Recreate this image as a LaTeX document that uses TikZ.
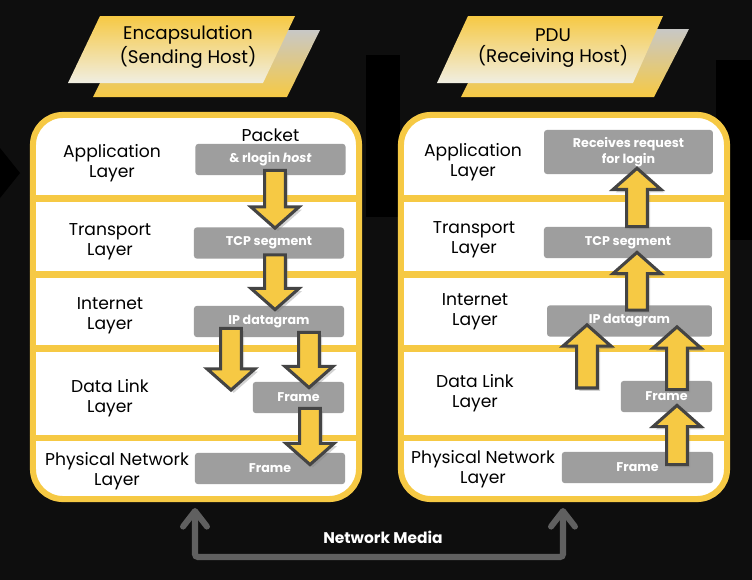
\documentclass[tikz,border=0pt]{standalone}
\usepackage{fontspec}
\setmainfont{Poppins}
\usetikzlibrary{arrows.meta,calc,shadows,positioning}
\definecolor{bgdark}{RGB}{14,14,14}
\definecolor{osiyellow}{RGB}{246,201,68}
\definecolor{pdugray}{RGB}{158,158,158}
\definecolor{arrowedge}{RGB}{68,68,68}
\definecolor{mediagray}{RGB}{96,96,96}
\definecolor{cream}{RGB}{240,238,226}
\definecolor{titlegray}{RGB}{200,200,198}

% block arrow from #1 to #2 (tip at #2)
\newcommand{\blockarrow}[2]{%
  \coordinate (ba-s) at (#1);
  \coordinate (ba-e) at (#2);
  \coordinate (ba-h) at ($(ba-e)!0.53cm!(ba-s)$);
  \draw[blockarr] ($(ba-s)!0.26cm!90:(ba-e)$) -- ($(ba-h)!0.26cm!-90:(ba-s)$)
    -- ($(ba-h)!0.6cm!-90:(ba-s)$) -- (ba-e) -- ($(ba-h)!0.6cm!90:(ba-s)$)
    -- ($(ba-h)!0.26cm!90:(ba-s)$) -- ($(ba-s)!0.26cm!-90:(ba-e)$) -- cycle;}

\begin{document}
\begin{tikzpicture}[x=0.025cm, y=-0.025cm,
    panel/.style={draw=osiyellow, line width=4.3pt, fill=white,
        rounded corners=0.75cm, minimum width=8.15cm, minimum height=9.6cm},
    divider/.style={osiyellow, line width=4.3pt},
    layer/.style={font=\fontsize{12.2}{14.5}\selectfont, align=center, text=black},
    pdu/.style={fill=pdugray, rounded corners=2pt, minimum height=0.78cm,
        text=white, font=\bfseries\fontsize{9}{11}\selectfont, align=center},
    blockarr/.style={fill=osiyellow, draw=arrowedge, line width=2.2pt,
        drop shadow={opacity=0.35, shadow xshift=2pt, shadow yshift=-2pt}},
    media/.style={mediagray, line width=4.3pt, rounded corners=2pt,
        {Straight Barb[round, length=11pt, width=17pt]}-{Straight Barb[round, length=11pt, width=17pt]}},
    titletext/.style={font=\fontsize{13}{15.5}\selectfont, align=center, text=black}
]
    % Background
    \fill[bgdark] (0,0) rectangle (752,580);
    \fill[black] (366,55) rectangle (400,217);
    \fill[black] (716,60) rectangle (752,240);
    \fill[black] (0,148) -- (20,173) -- (0,198) -- cycle;

    % Title cards
    \shade[top color=titlegray, bottom color=osiyellow] (127,30) -- (320,30) -- (287,97) -- (93,97) -- cycle;
    \shade[top color=osiyellow, bottom color=cream] (100,16) -- (295,16) -- (263,83) -- (68,83) -- cycle;
    \node[titletext] (sendtitle) at (188,47) {Encapsulation\\(Sending Host)};

    \shade[top color=titlegray, bottom color=osiyellow] (495,29) -- (689,29) -- (654,97) -- (461,97) -- cycle;
    \shade[top color=osiyellow, bottom color=cream] (468,16) -- (663,16) -- (633,83) -- (437,83) -- cycle;
    \node[titletext] (recvtitle) at (553,48) {PDU\\(Receiving Host)};

    % Panels
    \node[panel] (lpanel) at (196,307) {};
    \node[panel] (rpanel) at (564,307) {};
    \foreach \yy in {198.5,274.5,348.5,438} {
        \draw[divider] (lpanel.west |- 0,\yy) -- (lpanel.east |- 0,\yy);
        \draw[divider] (rpanel.west |- 0,\yy) -- (rpanel.east |- 0,\yy);
    }

    % Layer names
    \node[layer] (lapp) at (112,163) {Application\\Layer};
    \node[layer] (ltra) at (110,242) {Transport\\Layer};
    \node[layer] (lint) at (110,316) {Internet\\Layer};
    \node[layer] (llnk) at (110,398) {Data Link\\Layer};
    \node[layer] (lphy) at (117,471) {Physical Network\\Layer};

    \node[layer] (rappl) at (473,162) {Application\\Layer};
    \node[layer] (rtra) at (474,240) {Transport\\Layer};
    \node[layer] (rint) at (475,312) {Internet\\Layer};
    \node[layer] (rlnk) at (475,393) {Data Link\\Layer};
    \node[layer] (rphy) at (483,469) {Physical Network\\Layer};

    % PDU boxes, sending side
    \node[pdu, minimum width=3.75cm] (pkt) at (270.5,159.5) {\& rlogin \textit{host}};
    \node[layer, above=0pt of pkt, inner sep=1pt] (pktlbl) {Packet};
    \node[pdu, minimum width=3.75cm] (ltcp) at (269,243) {TCP segment};
    \node[pdu, minimum width=3.75cm] (lip) at (269,321.5) {IP datagram};
    \node[pdu, minimum width=2.28cm] (lframe) at (298.5,397.5) {Frame};
    \node[pdu, minimum width=3.75cm] (lphys) at (270,468.5) {Frame};

    % PDU boxes, receiving side
    \node[pdu, minimum width=4.22cm, minimum height=1.1cm] (rapp) at (628.5,152) {Receives request\\for login};
    \node[pdu, minimum width=4.2cm] (rtcp) at (628,242.5) {TCP segment};
    \node[pdu, minimum width=4.12cm] (rip) at (629.5,321) {IP datagram};
    \node[pdu, minimum width=2.28cm] (rframe) at (666.5,396.5) {Frame};
    \node[pdu, minimum width=3.78cm] (rphys) at (637.5,467.5) {Frame};

    % Encapsulation arrows (down)
    \coordinate (lfree) at (231,390);
    \blockarrow{$(pkt.south)+(4.5,-5)$}{$(ltcp.north)+(6,1)$}
    \blockarrow{$(ltcp.south)+(6,-4)$}{$(lip.north)+(6,4)$}
    \blockarrow{$(lip.south)+(-38,-9)$}{lfree}
    \blockarrow{$(lip.south)+(40,-5)$}{$(lframe.north)+(10.5,6)$}
    \blockarrow{$(lframe.south)+(11.5,-5)$}{$(lphys.north)+(40,12)$}

    % Decapsulation arrows (up)
    \coordinate (rfree) at (587,388);
    \blockarrow{$(rtcp.north)+(9,0)$}{$(rapp.south)+(8.5,-6)$}
    \blockarrow{$(rip.north)+(7.5,5)$}{$(rtcp.south)+(9,-6)$}
    \blockarrow{rfree}{$(rip.south)+(-42.5,-12)$}
    \blockarrow{$(rframe.north)+(10.5,9)$}{$(rip.south)+(47.5,-10)$}
    \blockarrow{$(rphys.north)+(39.5,13)$}{$(rframe.south)+(10.5,-7)$}

    % Network media
    \coordinate (mlow) at (380,557);
    \draw[media] ($(lpanel.south)+(-1,6)$) |- (mlow) -| ($(rpanel.south)+(-1,6)$);
    \node[font=\bfseries\fontsize{11}{13}\selectfont, text=white] (medialbl) at (383,537) {Network Media};
\end{tikzpicture}
\end{document}
